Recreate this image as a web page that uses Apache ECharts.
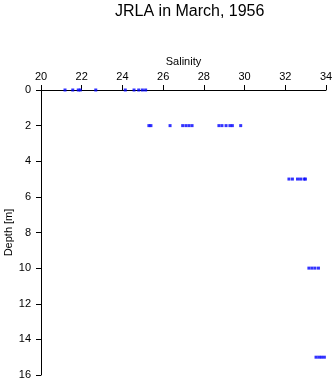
<!DOCTYPE html>
<html><head><meta charset="utf-8">
<script src="https://cdn.jsdelivr.net/npm/echarts@6/dist/echarts.min.js"></script>
<style>html,body{margin:0;padding:0;background:#fff}#c{width:335px;height:384px}</style>
</head><body><div id="c"></div>
<script>
const depth0 = [21.18, 21.56, 21.83, 21.93, 22.69, 24.14, 24.57, 24.80, 24.98, 25.14];
const depth2 = [25.30, 25.40, 26.34, 26.96, 27.12, 27.27, 27.42, 28.74, 28.89, 29.09, 29.28, 29.40, 29.81];
const depth5 = [32.18, 32.35, 32.60, 32.75, 32.92, 32.99];
const depth10 = [33.16, 33.31, 33.46, 33.63];
const depth15 = [33.51, 33.65, 33.78, 33.92];
const groups = [[0, depth0], [2, depth2], [5, depth5], [10, depth10], [15, depth15]];
const points = [];
groups.forEach(([d, arr]) => arr.forEach(s => points.push([s, d])));
const font = 'Liberation Sans, Arial, sans-serif';
const chart = echarts.init(document.getElementById('c'), null, {renderer: 'canvas'});
chart.setOption({
  animation: false,
  title: {text: 'JRLA in March, 1956', left: 110, top: -1,
    textStyle: {fontFamily: font, fontSize: 16, fontWeight: 'normal', color: '#000'}},
  grid: {left: 41, right: 9, top: 90, bottom: 9, containLabel: false, outerBoundsMode: 'none'},
  xAxis: {type: 'value', position: 'top', min: 20, max: 34, interval: 2,
    name: 'Salinity', nameLocation: 'middle', nameGap: 23, nameMoveOverlap: false,
    nameTextStyle: {fontFamily: font, fontSize: 11, color: '#000'},
    axisLine: {lineStyle: {color: '#000', width: 1}},
    axisTick: {length: 5, lineStyle: {color: '#000'}},
    axisLabel: {fontFamily: font, fontSize: 11, color: '#000', margin: 8},
    splitLine: {show: false}},
  yAxis: {type: 'value', inverse: true, min: 0, max: 16, interval: 2,
    name: 'Depth [m]', nameLocation: 'middle', nameGap: 27, nameMoveOverlap: false,
    nameTextStyle: {fontFamily: font, fontSize: 11, color: '#000'},
    axisLine: {lineStyle: {color: '#000', width: 1}},
    axisTick: {length: 5, lineStyle: {color: '#000'}},
    axisLabel: {fontFamily: font, fontSize: 11, color: '#000', margin: 10},
    splitLine: {show: false}},
  series: [{type: 'scatter', data: points, symbol: 'rect', symbolSize: 3,
    itemStyle: {color: '#0000ff'}}]
});
</script></body></html>
